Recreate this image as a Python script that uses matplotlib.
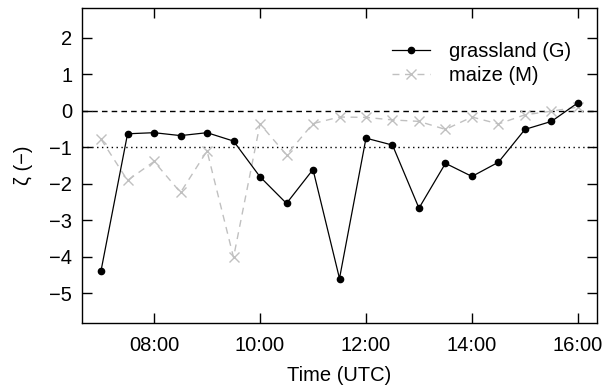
import matplotlib
matplotlib.use("Agg")
import matplotlib.pyplot as plt

plt.rcParams['font.family'] = ['Liberation Sans', 'DejaVu Sans']

times = ["07:00", "07:30", "08:00", "08:30", "09:00", "09:30", "10:00", "10:30",
         "11:00", "11:30", "12:00", "12:30", "13:00", "13:30", "14:00", "14:30",
         "15:00", "15:30", "16:00"]
grassland = [-4.38, -0.63, -0.60, -0.68, -0.60, -0.83, -1.81, -2.54, -1.61, -4.60,
             -0.75, -0.94, -2.67, -1.44, -1.80, -1.41, -0.51, -0.29, 0.22]
maize = [-0.78, -1.91, -1.39, -2.24, -1.10, -4.02, -0.36, -1.21, -0.35, -0.17,
         -0.18, -0.25, -0.29, -0.51, -0.17, -0.36, -0.11, -0.01, 0.10]
xtick_labels = ["08:00", "10:00", "12:00", "14:00", "16:00"]
yticks = [-5, -4, -3, -2, -1, 0, 1, 2]

def to_hours(s):
    h, m = s.split(":")
    return int(h) + int(m) / 60.0

x = [to_hours(t) for t in times]
xt = [to_hours(t) for t in xtick_labels]

FS = 14.5

fig = plt.figure(figsize=(6.09, 3.87), dpi=100)
ax = fig.add_axes([82/609, 1 - 323/387, (597-82)/609, (323-8)/387])

ax.axhline(0, color='black', lw=1.0, ls=(0, (4, 3)), zorder=1)
ax.axhline(-1, color='black', lw=1.0, ls=(0, (1, 2.5)), zorder=1)

ax.plot(x, maize, color='#c0c0c0', lw=1.0, ls=(0, (5, 4)), marker='x', ms=7,
        mew=1.0, label='maize (M)', zorder=2)
ax.plot(x, grassland, color='black', lw=0.9, marker='o', ms=4.5,
        label='grassland (G)', zorder=3)

ax.set_xlim(6.64, 16.36)
ax.set_ylim(-5.82, 2.82)
ax.set_xticks(xt)
ax.set_xticklabels(xtick_labels)
ax.set_yticks(yticks)
ax.set_yticklabels([str(v) if v >= 0 else '\u2212' + str(-v) for v in yticks])

ax.tick_params(direction='in', length=7.5, width=1.0, labelsize=FS,
               top=True, right=True)
ax.tick_params(axis='x', pad=9.5)
ax.tick_params(axis='y', pad=7)
for sp in ax.spines.values():
    sp.set_linewidth(1.0)

ax.set_xlabel('Time (UTC)', fontsize=FS, labelpad=8)
ax.set_ylabel('\u03b6 (\u2212)', fontsize=FS, labelpad=12)

h, l = ax.get_legend_handles_labels()
ax.legend(h[::-1], l[::-1], loc='upper right', frameon=False, fontsize=FS,
          bbox_to_anchor=(0.985, 0.95), handlelength=1.9, handletextpad=0.95,
          labelspacing=0.25)

fig.savefig('out.png', dpi=100)
